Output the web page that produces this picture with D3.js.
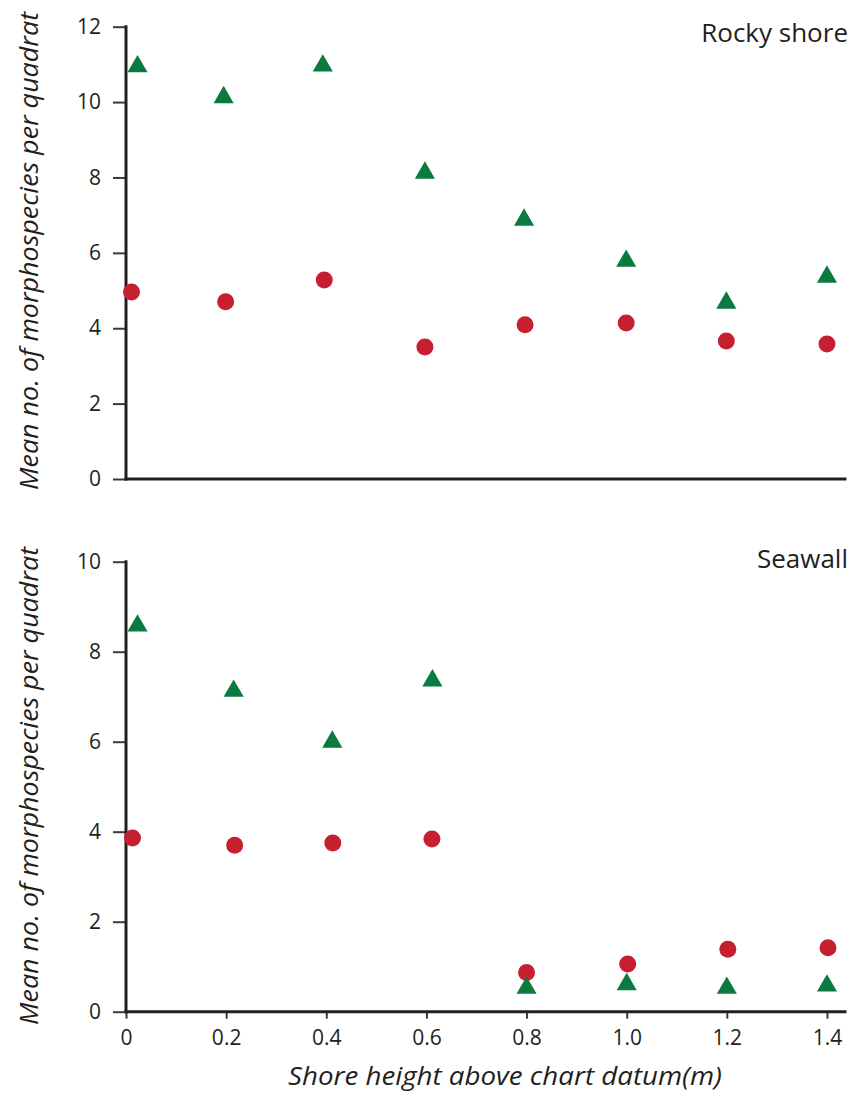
<!DOCTYPE html>
<html>
<head>
<meta charset="utf-8">
<script src="https://cdn.jsdelivr.net/npm/d3@7"></script>
<style>
  body { margin: 0; background: #fff; }
  svg { display: block; font-family: 'Open Sans', sans-serif; }
</style>
</head>
<body>
<svg id="chart" width="855" height="1101"></svg>
<script>
// Rocky shore panel
const rockyTriX = [0.023, 0.195, 0.393, 0.597, 0.795, 0.999, 1.199, 1.400];
const rockyTriY = [11.02, 10.20, 11.04, 8.20, 6.95, 5.86, 4.75, 5.44];
const rockyDotX = [0.011, 0.199, 0.396, 0.597, 0.797, 0.999, 1.199, 1.400];
const rockyDotY = [4.96, 4.70, 5.28, 3.50, 4.09, 4.14, 3.66, 3.58];

// Seawall panel
const seaTriX = [0.023, 0.215, 0.412, 0.612, 0.800, 1.000, 1.200, 1.400];
const seaTriY = [8.64, 7.19, 6.06, 7.42, 0.59, 0.67, 0.59, 0.64];
const seaDotX = [0.013, 0.217, 0.413, 0.611, 0.800, 1.002, 1.202, 1.402];
const seaDotY = [3.86, 3.70, 3.75, 3.84, 0.87, 1.06, 1.39, 1.42];

const xTicks = [0, 0.2, 0.4, 0.6, 0.8, 1.0, 1.2, 1.4];
const xTickLabels = ['0', '0.2', '0.4', '0.6', '0.8', '1.0', '1.2', '1.4'];
const rockyYTicks = [0, 2, 4, 6, 8, 10, 12];
const seaYTicks = [0, 2, 4, 6, 8, 10];

const green = '#0b7a3e';
const red = '#c61f30';
const ink = '#231f20';

const svg = d3.select('#chart');

// shared x scale, axis line runs a bit past 1.4
const x = d3.scaleLinear().domain([0, 1.436]).range([126, 845]);

// triangle centred on its bounding box
const triShape = {
  draw(ctx, size) {
    const w = Math.sqrt(size * 4 / Math.sqrt(3));
    const h = w * Math.sqrt(3) / 2;
    ctx.moveTo(0, -h / 2);
    ctx.lineTo(w / 2, h / 2);
    ctx.lineTo(-w / 2, h / 2);
    ctx.closePath();
  }
};
const triPath = d3.symbol().type(triShape).size(175)();

function drawPanel(opts) {
  const y = d3.scaleLinear().domain([0, opts.yMax]).range([opts.y0, opts.yTop]);
  const g = svg.append('g');

  // y axis
  const yAxis = g.append('g')
    .attr('transform', `translate(${x(0)},0)`)
    .call(d3.axisLeft(y).tickValues(opts.yTicks).tickSize(13).tickPadding(12).tickSizeOuter(0));
  yAxis.select('.domain').remove();
  yAxis.selectAll('line').attr('stroke', '#3a3a3a').attr('stroke-width', 2);
  yAxis.selectAll('text')
    .attr('font-size', '21px')
    .attr('fill', ink)
    .attr('font-family', 'Open Sans');

  // x axis (ticks only on the lower panel)
  const xAxis = g.append('g')
    .attr('transform', `translate(0,${opts.y0})`)
    .call(d3.axisBottom(x).tickValues(opts.showX ? xTicks : [])
      .tickFormat((d, i) => xTickLabels[i]).tickSize(7).tickPadding(11).tickSizeOuter(0));
  xAxis.select('.domain').remove();
  xAxis.selectAll('line').attr('stroke', '#3a3a3a').attr('stroke-width', 2);
  xAxis.selectAll('text')
    .attr('font-size', '21px')
    .attr('fill', ink)
    .attr('font-family', 'Open Sans');

  // axis lines
  g.append('line')
    .attr('x1', x(0)).attr('x2', x(0))
    .attr('y1', y(opts.yMax)).attr('y2', y(0))
    .attr('stroke', ink).attr('stroke-width', 3).attr('stroke-linecap', 'square');
  g.append('line')
    .attr('x1', x(0)).attr('x2', x(1.436))
    .attr('y1', y(0)).attr('y2', y(0))
    .attr('stroke', ink).attr('stroke-width', 3).attr('stroke-linecap', 'square');

  // circles
  g.selectAll('circle.dot')
    .data(opts.dotX.map((d, i) => [d, opts.dotY[i]]))
    .enter()
    .append('circle')
    .attr('class', 'dot')
    .attr('cx', d => x(d[0]))
    .attr('cy', d => y(d[1]))
    .attr('r', 8.5)
    .attr('fill', red);

  // triangles
  g.selectAll('path.tri')
    .data(opts.triX.map((d, i) => [d, opts.triY[i]]))
    .enter()
    .append('path')
    .attr('class', 'tri')
    .attr('d', triPath)
    .attr('transform', d => `translate(${x(d[0])},${y(d[1])})`)
    .attr('fill', green);

  // panel label
  g.append('text')
    .attr('x', 848)
    .attr('y', opts.labelY)
    .attr('text-anchor', 'end')
    .attr('font-size', '26px')
    .attr('fill', ink)
    .text(opts.label);

  // y title
  g.append('text')
    .attr('transform', `translate(38,${opts.titleY}) rotate(-90)`)
    .attr('text-anchor', 'middle')
    .attr('font-size', '25px')
    .attr('font-style', 'italic')
    .attr('fill', ink)
    .attr('textLength', 478)
    .attr('lengthAdjust', 'spacingAndGlyphs')
    .text('Mean no. of morphospecies per quadrat');
}

drawPanel({
  yMax: 12, y0: 479, yTop: 26.7, yTicks: rockyYTicks, showX: false,
  triX: rockyTriX, triY: rockyTriY, dotX: rockyDotX, dotY: rockyDotY,
  label: 'Rocky shore', labelY: 42, titleY: 251
});

drawPanel({
  yMax: 10, y0: 1011.7, yTop: 561.7, yTicks: seaYTicks, showX: true,
  triX: seaTriX, triY: seaTriY, dotX: seaDotX, dotY: seaDotY,
  label: 'Seawall', labelY: 568, titleY: 786
});

// x title
svg.append('text')
  .attr('x', 505)
  .attr('y', 1085)
  .attr('text-anchor', 'middle')
  .attr('font-size', '25px')
  .attr('font-style', 'italic')
  .attr('fill', ink)
  .attr('textLength', 434)
  .attr('lengthAdjust', 'spacingAndGlyphs')
  .text('Shore height above chart datum(m)');
</script>
</body>
</html>
